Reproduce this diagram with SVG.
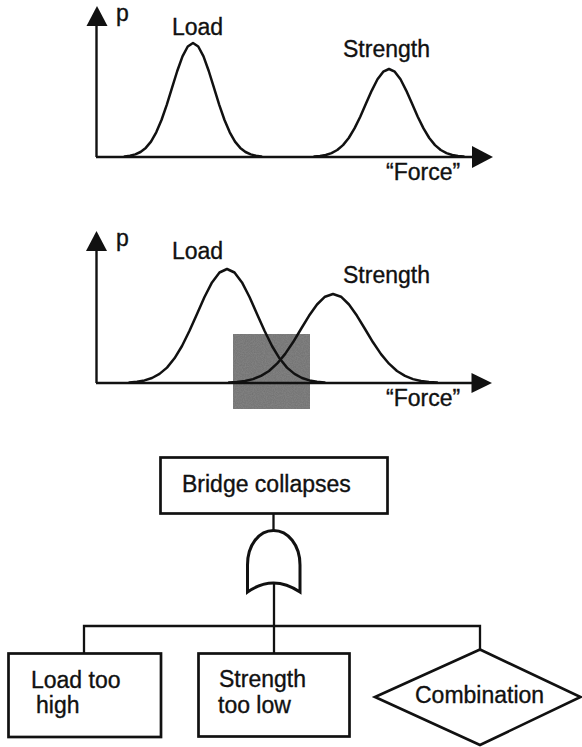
<svg xmlns="http://www.w3.org/2000/svg" width="582" height="747" viewBox="0 0 582 747">
<style>
  text { font-family: "Liberation Sans", Arial, sans-serif; font-size: 23px; fill: #111; stroke: #111; stroke-width: 0.35; }
  .axis { stroke: #111; stroke-width: 2.4; fill: none; }
  .curve { stroke: #111; stroke-width: 2.5; fill: none; stroke-linejoin: round; stroke-linecap: round; }
  .head { fill: #111; stroke: none; }
  .box { fill: #fff; stroke: #111; stroke-width: 2.7; }
  .wire { stroke: #111; stroke-width: 2.3; fill: none; }
</style>
<defs>
  <filter id="grain" x="0" y="0" width="100%" height="100%">
    <feTurbulence type="fractalNoise" baseFrequency="0.9" numOctaves="2" seed="3" result="n"/>
    <feColorMatrix in="n" type="matrix" values="0 0 0 0 0.30  0 0 0 0 0.30  0 0 0 0 0.30  0 0 0 0.55 0" result="g"/>
    <feComposite in="g" in2="SourceGraphic" operator="in" result="gm"/>
    <feMerge><feMergeNode in="SourceGraphic"/><feMergeNode in="gm"/></feMerge>
  </filter>
</defs>

<g id="graph-separated">
  <line class="axis" x1="96.5" y1="24" x2="96.5" y2="157"/>
  <line class="axis" x1="96" y1="157" x2="474" y2="157"/>
  <polygon class="head" points="97,6 86.5,26 107.5,26"/>
  <polygon class="head" points="493,157 472,146 472,168"/>
  <text x="116" y="21">p</text>
  <text x="172" y="35">Load</text>
  <text x="343" y="57">Strength</text>
  <text x="386" y="180">“Force”</text>
  <polyline class="curve" points="124.75,156.4 130,155.7 135.25,154.4 140.5,152 145.75,147.9 151,141.6 156.25,132.3 161.5,120 166.75,104.8 172,87.9 177.25,71 182.5,56.4 187.75,46.5 193,43 198.25,46.5 203.5,56.4 208.75,71 214,87.9 219.25,104.8 224.5,120 229.75,132.3 235,141.6 240.25,147.9 245.5,152 250.75,154.4 256,155.7 261.25,156.4"/>
  <polyline class="curve" points="314.25,156.6 320,156 325.75,155 331.5,153.1 337.25,150 343,145.1 348.75,138 354.5,128.4 360.25,116.7 366,103.6 371.75,90.6 377.5,79.3 383.25,71.7 389,69 394.75,71.7 400.5,79.3 406.25,90.6 412,103.6 417.75,116.7 423.5,128.4 429.25,138 435,145.1 440.75,150 446.5,153.1 452.25,155 458,156 463.75,156.6"/>
</g>

<g id="graph-overlap">
  <rect x="233" y="334" width="77" height="75" fill="#707070" filter="url(#grain)"/>
  <line class="axis" x1="96.5" y1="249" x2="96.5" y2="383"/>
  <line class="axis" x1="96" y1="383" x2="474" y2="383"/>
  <polygon class="head" points="96.5,231 86,251 107,251"/>
  <polygon class="head" points="492,383 471.5,373 471.5,393"/>
  <text x="116" y="246">p</text>
  <text x="172" y="259">Load</text>
  <text x="343" y="283">Strength</text>
  <text x="386" y="406">“Force”</text>
  <polyline class="curve" points="129.5,382.4 137,381.7 144.5,380.4 152,378 159.5,373.9 167,367.6 174.5,358.3 182,346 189.5,330.8 197,313.9 204.5,297 212,282.4 219.5,272.5 227,269 234.5,272.5 242,282.4 249.5,297 257,313.9 264.5,330.8 272,346 279.5,358.3 287,367.6 294.5,373.9 302,378 309.5,380.4 317,381.7 324.5,382.4"/>
  <polyline class="curve" points="229,382.5 237,382 245,381 253,379.1 261,375.9 269,371 277,363.7 285,354.1 293,342.3 301,329 309,315.8 317,304.5 325,296.7 333,294 341,296.7 349,304.5 357,315.8 365,329 373,342.3 381,354.1 389,363.7 397,371 405,375.9 413,379.1 421,381 429,382 437,382.5"/>
</g>

<g id="connectors">
  <line class="wire" x1="273.5" y1="513" x2="273.5" y2="531"/>
  <line class="wire" x1="274" y1="583" x2="274" y2="653"/>
  <polyline class="wire" points="84,653 84,626 480,626 480,650"/>
</g>

<g id="top-event">
  <rect class="box" x="160.5" y="457.5" width="227" height="56"/>
  <text x="182" y="492">Bridge collapses</text>
</g>

<g id="or-gate">
  <path d="M247.5,592 L247.5,565 C247.5,545 259,530.5 273.5,530.5 C288,530.5 300,545 300,565 L300,592 C291,586 284,583 273.5,583 C263,583 256,586 247.5,592 Z" fill="#fff" stroke="#111" stroke-width="3"/>
</g>

<g id="load-too-high">
  <rect class="box" x="8.5" y="653.5" width="152.5" height="83.5"/>
  <text x="31" y="688">Load too</text>
  <text x="36" y="713">high</text>
</g>

<g id="strength-too-low">
  <rect class="box" x="198.5" y="653.5" width="151" height="83"/>
  <text x="219" y="687">Strength</text>
  <text x="218" y="713">too low</text>
</g>

<g id="combination">
  <polygon class="box" points="480,649.5 580.5,697 480,745 375,697"/>
  <text x="415" y="703">Combination</text>
</g>
</svg>
